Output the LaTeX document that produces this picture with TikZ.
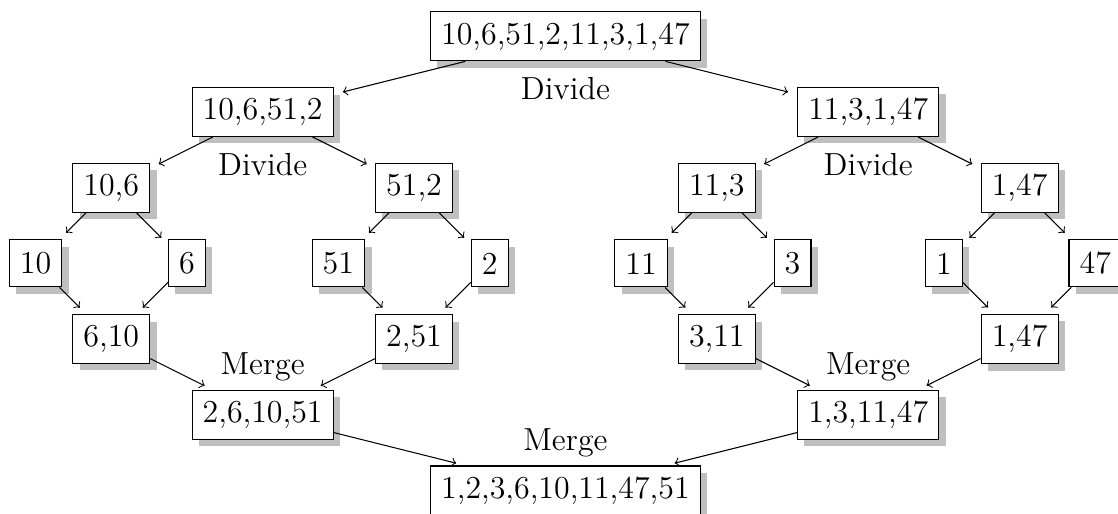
\documentclass[tikz,border=0pt,12pt]{standalone}
\usepackage{tikz}
\usetikzlibrary{shadows}

\begin{document}
\begin{tikzpicture}
		\tikzstyle{list-node}=[draw,fill=white,minimum height=0.62cm,drop shadow]
		\tikzstyle{step-arrow}=[->,shorten >=3.5pt]
		\useasboundingbox (-7.47,0.48) rectangle (7.3,-6.3);
		% divide
		\node [list-node] at (0,0) (s) {10,6,51,2,11,3,1,47};
		\node [list-node] at (-4,-1) (s1) {10,6,51,2};
		\node [list-node] at (4,-1) (s2) {11,3,1,47};
		\node [list-node] at (-6,-2) (s11) {10,6};
		\node [list-node] at (-2,-2) (s12) {51,2};
		\node [list-node] at (2,-2) (s21) {11,3};
		\node [list-node] at (6,-2) (s22) {1,47};
		\node at (0,-0.69) (dv0) {Divide};
		\node at (-4,-1.69) (dv1) {Divide};
		\node at (4,-1.69) (dv2) {Divide};
		% single values
		\node [list-node] at (-7,-3) (l1) {10};
		\node [list-node] at (-5,-3) (l2) {6};
		\node [list-node] at (-3,-3) (l3) {51};
		\node [list-node] at (-1,-3) (l4) {2};
		\node [list-node] at (1,-3) (l5) {11};
		\node [list-node] at (3,-3) (l6) {3};
		\node [list-node] at (5,-3) (l7) {1};
		\node [list-node] at (7,-3) (l8) {47};
		% merge
		\node [list-node] at (-6,-4) (m11) {6,10};
		\node [list-node] at (-2,-4) (m12) {2,51};
		\node [list-node] at (2,-4) (m21) {3,11};
		\node [list-node] at (6,-4) (m22) {1,47};
		\node [list-node] at (-4,-5) (m1) {2,6,10,51};
		\node [list-node] at (4,-5) (m2) {1,3,11,47};
		\node [list-node] at (0,-6) (m) {1,2,3,6,10,11,47,51};
		\node at (-4,-4.37) (mg1) {Merge};
		\node at (4,-4.37) (mg2) {Merge};
		\node at (0,-5.37) (mg0) {Merge};
		% arrows
		\draw [step-arrow] (s) -- (s1);
		\draw [step-arrow] (s) -- (s2);
		\draw [step-arrow] (s1) -- (s11);
		\draw [step-arrow] (s1) -- (s12);
		\draw [step-arrow] (s2) -- (s21);
		\draw [step-arrow] (s2) -- (s22);
		\draw [step-arrow] (s11) -- (l1);
		\draw [step-arrow] (s11) -- (l2);
		\draw [step-arrow] (s12) -- (l3);
		\draw [step-arrow] (s12) -- (l4);
		\draw [step-arrow] (s21) -- (l5);
		\draw [step-arrow] (s21) -- (l6);
		\draw [step-arrow] (s22) -- (l7);
		\draw [step-arrow] (s22) -- (l8);
		\draw [step-arrow] (l1) -- (m11);
		\draw [step-arrow] (l2) -- (m11);
		\draw [step-arrow] (l3) -- (m12);
		\draw [step-arrow] (l4) -- (m12);
		\draw [step-arrow] (l5) -- (m21);
		\draw [step-arrow] (l6) -- (m21);
		\draw [step-arrow] (l7) -- (m22);
		\draw [step-arrow] (l8) -- (m22);
		\draw [step-arrow] (m11) -- (m1);
		\draw [step-arrow] (m12) -- (m1);
		\draw [step-arrow] (m21) -- (m2);
		\draw [step-arrow] (m22) -- (m2);
		\draw [step-arrow] (m1) -- (m);
		\draw [step-arrow] (m2) -- (m);
	\end{tikzpicture}
\end{document}
